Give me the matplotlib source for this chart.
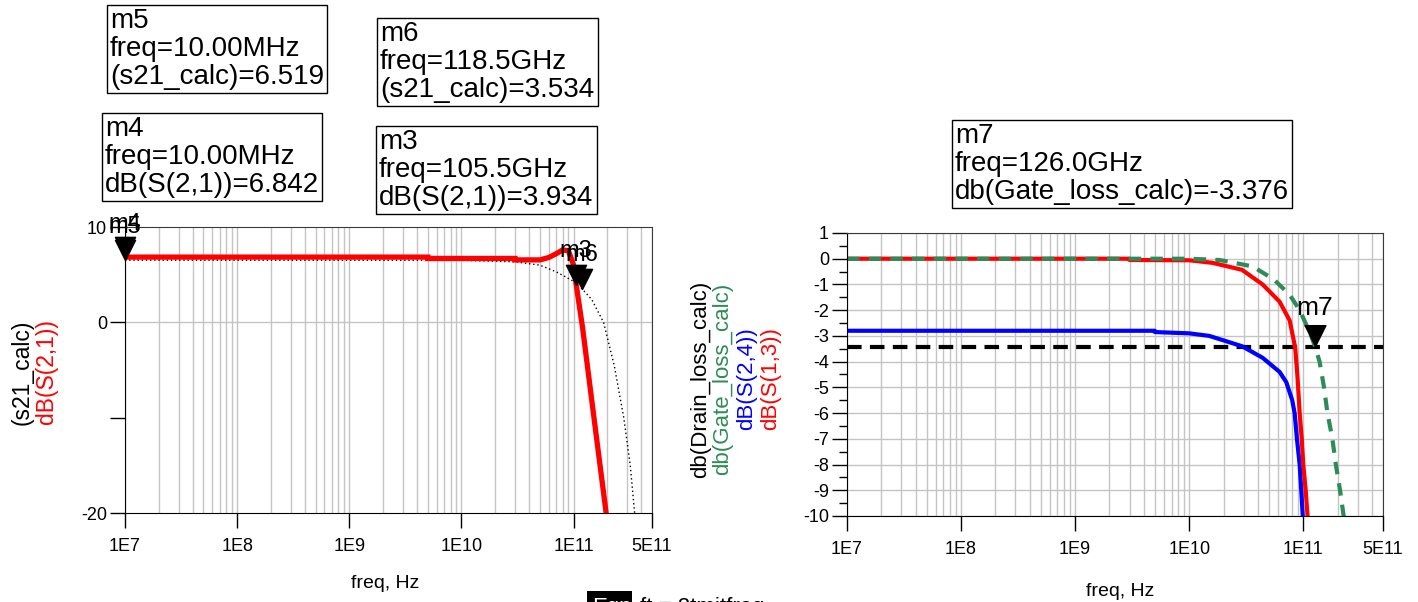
import matplotlib
matplotlib.use("Agg")
import matplotlib.pyplot as plt
from matplotlib.ticker import LogLocator, NullFormatter, FixedLocator
from matplotlib.patches import Rectangle

plt.rcParams['font.family'] = ['Liberation Sans', 'DejaVu Sans']
plt.rcParams['axes.unicode_minus'] = False

W, H = 1418, 602

# ---- left chart: dB(S(2,1)) and s21_calc ----
s21_db_freq = [1e7, 5e9, 5e9, 3e10, 3e10, 5e10, 6e10, 7e10, 8e10, 9e10,
               1.0e11, 1.055e11, 1.2e11, 1.5e11, 1.95e11, 2.1e11]
s21_db = [6.842, 6.842, 6.7, 6.7, 6.55, 6.55, 6.8, 7.2, 7.6, 7.5,
          6.0, 3.934, -0.5, -9.5, -20.0, -24.0]

s21_calc_freq = [1e7, 1e10, 3e10, 5e10, 7e10, 1e11, 1.185e11, 1.45e11,
                 1.85e11, 2.3e11, 2.8e11, 3.2e11, 3.5e11, 3.7e11]
s21_calc = [6.519, 6.5, 6.35, 6.0, 5.3, 4.3, 3.534, 2.4,
            0.0, -4.5, -10.0, -15.0, -20.0, -23.0]

# ---- right chart ----
drain_loss_level = -3.45
drain_freq = [1e7, 5e11]

gate_freq = [1e7, 3e9, 1e10, 1.85e10, 3.6e10, 5.5e10, 7.6e10, 9.3e10, 1.15e11,
             1.26e11, 1.39e11, 1.52e11, 1.63e11, 1.8e11, 1.93e11, 2.1e11, 2.26e11, 2.4e11]
gate_loss = [0.0, 0.0, 0.0, -0.05, -0.3, -0.8, -1.4, -2.0, -2.9,
             -3.376, -4.0, -5.0, -6.0, -7.0, -8.0, -9.0, -10.0, -11.0]

s24_freq = [1e7, 5e9, 5e9, 1e10, 1.5e10, 2.9e10, 4.4e10, 6.2e10, 7.1e10,
            8e10, 8.4e10, 8.8e10, 9.3e10, 9.6e10, 9.9e10, 1.02e11]
s24_db = [-2.8, -2.8, -2.85, -2.9, -3.0, -3.4, -3.85, -4.4, -4.8,
          -5.5, -6.0, -7.0, -8.0, -9.0, -10.0, -11.0]

s13_freq = [1e7, 3e9, 3e9, 1e10, 1.6e10, 2.9e10, 4.4e10, 6.2e10, 7.6e10,
            8.5e10, 8.9e10, 9.3e10, 9.7e10, 1e11, 1.05e11, 1.09e11, 1.12e11]
s13_db = [0.0, 0.0, -0.05, -0.06, -0.16, -0.43, -1.0, -1.67, -2.4,
          -3.46, -4.6, -6.0, -7.0, -8.0, -9.0, -10.0, -11.0]

xtick_vals = [1e7, 1e8, 1e9, 1e10, 1e11, 5e11]
xtick_labels = ['1E7', '1E8', '1E9', '1E10', '1E11', '5E11']

# markers: (name, freq, value)
left_markers = [('m5', 1e7, 6.519), ('m4', 1e7, 6.842),
                ('m3', 105.5e9, 3.934), ('m6', 118.5e9, 3.534)]
right_markers = [('m7', 126.0e9, -3.376)]

boxes = [
    ("m5\nfreq=10.00MHz\n(s21_calc)=6.519", 110, 8),
    ("m6\nfreq=118.5GHz\n(s21_calc)=3.534", 380, 21),
    ("m4\nfreq=10.00MHz\ndB(S(2,1))=6.842", 105, 116),
    ("m3\nfreq=105.5GHz\ndB(S(2,1))=3.934", 379, 129),
    ("m7\nfreq=126.0GHz\ndb(Gate_loss_calc)=-3.376", 955, 123),
]

GRID = '#c4c4c4'
tri = [(0, 0), (-0.5, 1), (0.5, 1), (0, 0)]


def fx(x):
    return x / W


def fy(y):
    return 1 - y / H


def style_axes(ax):
    ax.set_xscale('log')
    ax.set_xlim(1e7, 5e11)
    ax.xaxis.set_major_locator(FixedLocator(xtick_vals))
    ax.set_xticklabels(xtick_labels)
    ax.xaxis.set_minor_locator(LogLocator(base=10, subs=range(2, 10), numticks=20))
    ax.xaxis.set_minor_formatter(NullFormatter())
    ax.tick_params(axis='x', which='minor', length=0)
    ax.tick_params(axis='both', which='major', direction='out', length=11,
                   width=1, labelsize=13, colors='black')
    ax.tick_params(axis='x', which='major', pad=7)
    ax.tick_params(axis='y', which='major', pad=2)
    ax.grid(True, which='both', axis='x', color=GRID, lw=1)
    ax.set_axisbelow(True)
    for s in ['left', 'bottom']:
        ax.spines[s].set_color('black')
    for s in ['top', 'right']:
        ax.spines[s].set_color('#3a3a3a')


fig = plt.figure(figsize=(W / 100, H / 100), dpi=100)

# left axes
axl = fig.add_axes([fx(125), fy(513), fx(652) - fx(125), fy(227) - fy(513)])
style_axes(axl)
axl.set_ylim(-20, 10)
axl.set_yticks([10, 0, -10, -20])
axl.set_yticklabels(['10', '0', '', '-20'])
axl.axhline(0, color=GRID, lw=1, zorder=0.5)
axl.plot(s21_calc_freq, s21_calc, color='black', lw=1, ls=(0, (1, 2)))
axl.plot(s21_db_freq, s21_db, color='#ff0000', lw=3.8, solid_joinstyle='miter')
for name, f, v in left_markers:
    axl.plot([f], [v], marker=tri, ms=29, color='black', ls='none', clip_on=False, zorder=5)
    axl.annotate(name, (f, v), xytext=(0, 24), textcoords='offset points',
                 ha='center', va='center', fontsize=17, zorder=6, annotation_clip=False)

fig.text(fx(22), fy(372), '(s21_calc)', rotation=90, ha='center', va='center', fontsize=16.5, color='black')
fig.text(fx(47), fy(372), 'dB(S(2,1))', rotation=90, ha='center', va='center', fontsize=16.5, color='#ff0000')
fig.text(fx(385), fy(584), 'freq, Hz', ha='center', va='center', fontsize=14)

# right axes
axr = fig.add_axes([fx(847), fy(516), fx(1383) - fx(847), fy(233) - fy(516)])
style_axes(axr)
axr.set_ylim(-10, 1)
axr.set_yticks(list(range(1, -11, -1)))
axr.set_yticks([v + 0.5 for v in range(-10, 1)], minor=True)
axr.tick_params(axis='y', which='minor', direction='out', length=6, width=1)
axr.grid(True, which='major', axis='y', color=GRID, lw=1)
axr.plot(drain_freq, [drain_loss_level] * len(drain_freq), color='black', lw=3, ls=(0, (3.5, 2)))
axr.plot(s24_freq, s24_db, color='#0000ff', lw=3)
axr.plot(s13_freq, s13_db, color='#ff0000', lw=3)
axr.plot(gate_freq, gate_loss, color='#2e8b57', lw=3, ls=(0, (3, 2.2)))
for name, f, v in right_markers:
    axr.plot([f], [v], marker=tri, ms=30, color='black', ls='none', clip_on=False, zorder=5)
    axr.annotate(name, (f, v), xytext=(0, 27), textcoords='offset points',
                 ha='center', va='center', fontsize=19, zorder=6, annotation_clip=False)

ylab_right = [('db(Drain_loss_calc)', 'black', 701), ('db(Gate_loss_calc)', '#2e8b57', 723),
              ('dB(S(2,4))', '#0000ff', 747), ('dB(S(1,3))', '#ff0000', 771)]
for txt, c, x in ylab_right:
    fig.text(fx(x), fy(379), txt, rotation=90, ha='center', va='center', fontsize=16, color=c)
fig.text(fx(1120), fy(592), 'freq, Hz', ha='center', va='center', fontsize=14)

# marker readout boxes
for txt, x, y in boxes:
    fig.text(fx(x), fy(y), txt, ha='left', va='top', fontsize=20, linespacing=1.1,
             bbox=dict(boxstyle='square,pad=0.12', fc='white', ec='black', lw=1))

# partially visible equation at bottom edge
fig.patches.append(Rectangle((fx(587), 0), fx(45), fy(591), transform=fig.transFigure,
                             facecolor='black', edgecolor='none'))
fig.text(fx(592), fy(597), 'Eqn', ha='left', va='top', fontsize=16, color='white')
fig.text(fx(640), fy(597), 'ft = 2tmitfreq', ha='left', va='top', fontsize=16, color='black')

fig.savefig('out.png', dpi=100)
